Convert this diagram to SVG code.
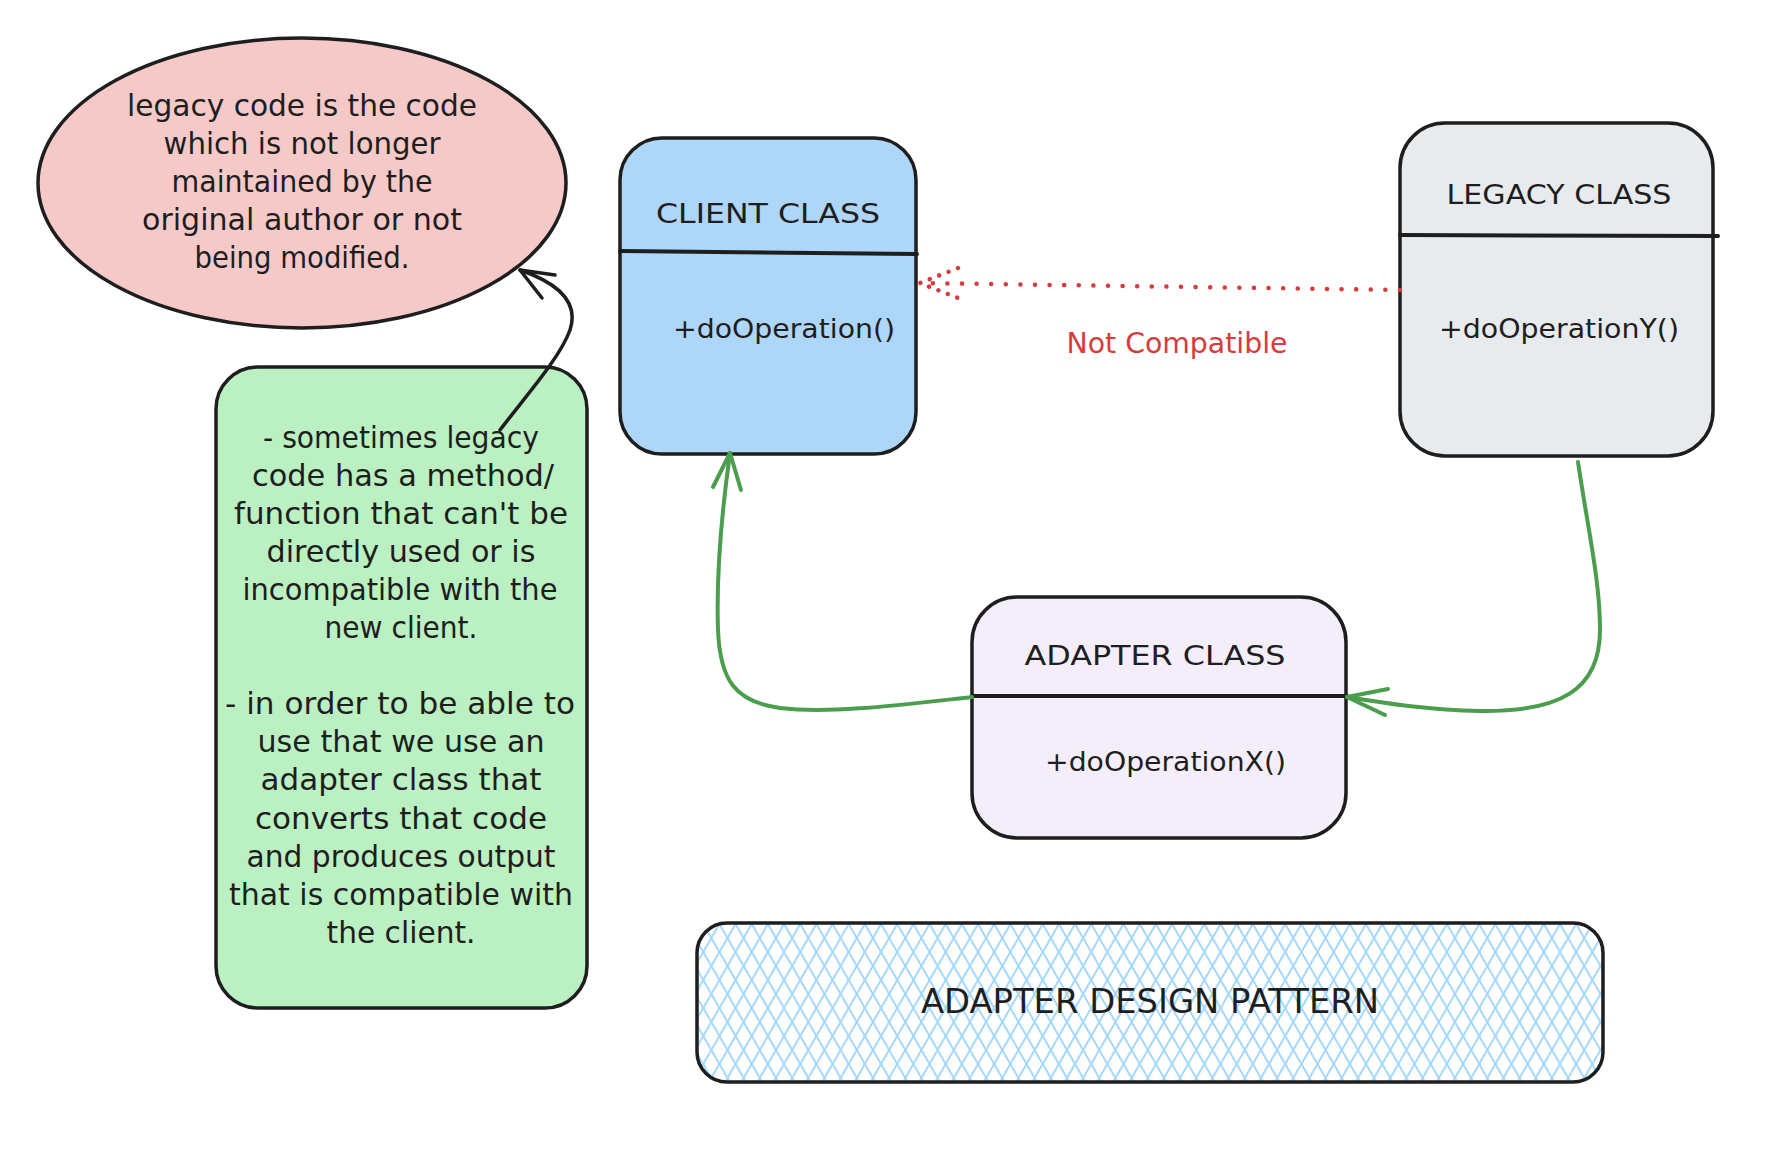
<svg xmlns="http://www.w3.org/2000/svg" width="1772" height="1168" viewBox="0 0 1772 1168">
<style>
.box{stroke:#1e1e1e;stroke-width:3.5;stroke-linejoin:round}
.div{stroke:#1e1e1e;stroke-width:4;fill:none;stroke-linecap:round}
.t{font-family:"DejaVu Sans","Liberation Sans",sans-serif;fill:#1e1e1e;font-size:30px;text-anchor:middle}
.title{font-size:27px}
.meth{font-size:26px;text-anchor:start}
.big{font-size:33px;font-family:"DejaVu Sans Condensed","DejaVu Sans",sans-serif}
.red{fill:#d63c3c;font-size:28px}
.g{stroke:#4a9e4e;stroke-width:4;fill:none;stroke-linecap:round;stroke-linejoin:round}
.k{stroke:#1e1e1e;stroke-width:3.5;fill:none;stroke-linecap:round;stroke-linejoin:round}
.r{stroke:#d63c3c;stroke-width:4.5;fill:none;stroke-linecap:round;stroke-dasharray:0.1 14.5}
.rh{stroke:#d63c3c;stroke-width:4.5;fill:none;stroke-linecap:round;stroke-dasharray:0.1 10}
</style>
<defs>
<pattern id="hA" width="14" height="14" patternUnits="userSpaceOnUse" patternTransform="rotate(30)">
<line x1="7" y1="0" x2="7" y2="14" stroke="#a5d8ff" stroke-width="2"/>
</pattern>
<pattern id="hB" width="14" height="14" patternUnits="userSpaceOnUse" patternTransform="rotate(-30)">
<line x1="7" y1="0" x2="7" y2="14" stroke="#a5d8ff" stroke-width="2"/>
</pattern>
</defs>
<rect width="1772" height="1168" fill="#ffffff"/>

<g id="legacy-note">
<ellipse cx="302" cy="183" rx="264" ry="145" fill="#f6c9c9" class="box"/>
<text class="t" x="302" y="116" textLength="350" lengthAdjust="spacingAndGlyphs">legacy code is the code</text>
<text class="t" x="302" y="154" textLength="277" lengthAdjust="spacingAndGlyphs">which is not longer</text>
<text class="t" x="302" y="192" textLength="261" lengthAdjust="spacingAndGlyphs">maintained by the</text>
<text class="t" x="302" y="230" textLength="320" lengthAdjust="spacingAndGlyphs">original author or not</text>
<text class="t" x="302" y="268" textLength="215" lengthAdjust="spacingAndGlyphs">being modified.</text>
</g>

<g id="explanation-note">
<rect x="216" y="367" width="371" height="641" rx="42" fill="#bbf0c2" class="box"/>
<text class="t" x="401" y="448" textLength="276" lengthAdjust="spacingAndGlyphs">- sometimes legacy</text>
<text class="t" x="403" y="486" textLength="302" lengthAdjust="spacingAndGlyphs">code has a method/</text>
<text class="t" x="401" y="524" textLength="334" lengthAdjust="spacingAndGlyphs">function that can't be</text>
<text class="t" x="401" y="562" textLength="269" lengthAdjust="spacingAndGlyphs">directly used or is</text>
<text class="t" x="400" y="600" textLength="315" lengthAdjust="spacingAndGlyphs">incompatible with the</text>
<text class="t" x="401" y="638" textLength="153" lengthAdjust="spacingAndGlyphs">new client.</text>
<text class="t" x="400" y="714" textLength="350" lengthAdjust="spacingAndGlyphs">- in order to be able to</text>
<text class="t" x="401" y="752" textLength="287" lengthAdjust="spacingAndGlyphs">use that we use an</text>
<text class="t" x="401" y="790" textLength="281" lengthAdjust="spacingAndGlyphs">adapter class that</text>
<text class="t" x="401" y="829" textLength="292" lengthAdjust="spacingAndGlyphs">converts that code</text>
<text class="t" x="401" y="867" textLength="309" lengthAdjust="spacingAndGlyphs">and produces output</text>
<text class="t" x="401" y="905" textLength="344" lengthAdjust="spacingAndGlyphs">that is compatible with</text>
<text class="t" x="401" y="943" textLength="149" lengthAdjust="spacingAndGlyphs">the client.</text>
</g>

<g id="client-class">
<rect x="620" y="138" width="296" height="316" rx="42" fill="#aed6f9" class="box"/>
<path class="div" d="M620 251 L917 254"/>
<text class="t title" x="768" y="223" textLength="224" lengthAdjust="spacingAndGlyphs">CLIENT CLASS</text>
<text class="t meth" x="673" y="338" textLength="222" lengthAdjust="spacingAndGlyphs">+doOperation()</text>
</g>

<g id="legacy-class">
<rect x="1400" y="123" width="313" height="333" rx="45" fill="#e8ebee" class="box"/>
<path class="div" d="M1400 235 L1718 236"/>
<text class="t title" x="1559" y="204" textLength="225" lengthAdjust="spacingAndGlyphs">LEGACY CLASS</text>
<text class="t meth" x="1439" y="338" textLength="240" lengthAdjust="spacingAndGlyphs">+doOperationY()</text>
</g>

<g id="adapter-class">
<rect x="972" y="597" width="374" height="241" rx="45" fill="#f4eefa" class="box"/>
<path class="div" d="M972 696 L1347 696"/>
<text class="t title" x="1155" y="665" textLength="261" lengthAdjust="spacingAndGlyphs">ADAPTER CLASS</text>
<text class="t meth" x="1045" y="771" textLength="241" lengthAdjust="spacingAndGlyphs">+doOperationX()</text>
</g>

<g id="pattern-title">
<rect x="697" y="923" width="906" height="159" rx="30" fill="url(#hA)"/>
<rect x="697" y="923" width="906" height="159" rx="30" fill="url(#hB)" class="box"/>
<text class="t big" x="1150" y="1013" textLength="458" lengthAdjust="spacingAndGlyphs">ADAPTER DESIGN PATTERN</text>
</g>

<g id="connectors">
<path class="r" d="M1400 290 L920 283"/>
<path class="rh" d="M958 268 L920 283 L958 298"/>
<text class="t red" x="1177" y="353" textLength="221" lengthAdjust="spacingAndGlyphs">Not Compatible</text>
<path class="g" d="M972 697 C 900 705, 830 714, 780 708 C 735 702, 720 680, 718 630 C 716 570, 722 510, 730 453"/>
<path class="g" d="M713 487 L730 453 L741 490"/>
<path class="g" d="M1578 462 C 1588 530, 1600 580, 1600 630 C 1600 690, 1560 712, 1480 711 C 1430 710, 1390 704, 1347 697"/>
<path class="g" d="M1388 689 L1347 697 L1385 715"/>
<path class="k" d="M500 430 C 525 397, 560 358, 570 330 C 580 300, 555 282, 520 270"/>
<path class="k" d="M555 275 L520 270 L542 298"/>
</g>
</svg>
